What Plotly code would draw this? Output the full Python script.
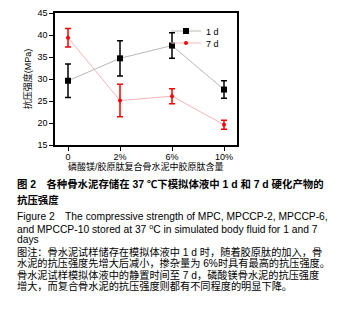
import plotly.graph_objects as go

categories = ["0", "2%", "6%", "10%"]
d1_values = [29.6, 34.7, 37.6, 27.6]
d1_errors = [3.8, 4.0, 2.9, 2.0]
d7_values = [39.4, 25.1, 26.1, 19.6]
d7_errors = [2.1, 3.7, 1.7, 1.0]
y_ticks = [15, 20, 25, 30, 35, 40, 45]

x = list(range(len(categories)))

fig = go.Figure()
fig.add_trace(go.Scatter(
    x=x, y=d1_values, name="1 d", mode="lines+markers", legend="legend",
    line=dict(color="#b8b8b8", width=1),
    marker=dict(symbol="square", size=6, color="black"),
    error_y=dict(type="data", array=d1_errors, color="black", thickness=1.5, width=3),
))
fig.add_trace(go.Scatter(
    x=x, y=d7_values, name="7 d", mode="lines+markers", legend="legend2",
    line=dict(color="#f5b5b5", width=1),
    marker=dict(symbol="circle", size=4, color="red"),
    error_y=dict(type="data", array=d7_errors, color="red", thickness=1.5, width=3),
))

# page body has an 8px margin; figure coordinates = page coordinates - 8
OFF = 8
W, H = 349 - OFF, 335 - OFF
L, R, T, B = 55 - OFF, 237 - OFF, 13 - OFF, 145 - OFF
pw, ph = R - L, B - T

def px(xp):
    return (xp - OFF - L) / pw

def py(yp):
    return (B - (yp - OFF)) / ph

cjk = "Liberation Sans, Noto Sans CJK SC, sans-serif"

legend_common = dict(xanchor="left", yanchor="middle", bgcolor="rgba(0,0,0,0)",
                     font=dict(size=9), borderwidth=0)

fig.update_layout(
    template="none",
    width=W, height=H,
    margin=dict(l=L, r=W - R, t=T, b=H - B, pad=0, autoexpand=False),
    paper_bgcolor="white", plot_bgcolor="white",
    font=dict(family=cjk, size=9, color="black"),
    showlegend=True,
    legend=dict(x=px(166), y=py(31), **legend_common),
    legend2=dict(x=px(166), y=py(43), **legend_common),
    xaxis=dict(range=[-0.25, 3.25], tickvals=x, ticktext=categories,
               showline=True, linecolor="black", linewidth=1.5, mirror=True,
               ticks="outside", ticklen=4, tickcolor="black", showgrid=False,
               ticklabelstandoff=-2,
               zeroline=False, fixedrange=True, automargin=False),
    yaxis=dict(range=[15, 45], tickvals=y_ticks,
               showline=True, linecolor="black", linewidth=1.5, mirror=True,
               ticks="outside", ticklen=4, tickcolor="black", showgrid=False,
               zeroline=False, automargin=False,
               title=dict(text="抗压强度(MPa)", font=dict(size=9), standoff=4)),
)

fig.add_annotation(text="磷酸镁/胶原肽复合骨水泥中胶原肽含量", xref="paper", yref="paper",
                   x=px(146), y=py(166.5), xanchor="center", yanchor="middle",
                   showarrow=False, font=dict(size=9, family=cjk))

lines = [
    ("<b>图 2　各种骨水泥存储在 37 ℃下模拟体液中 1 d 和 7 d 硬化产物的</b>", 184, 10.4),
    ("<b>抗压强度</b>", 200, 10.4),
    ("Figure 2　The compressive strength of MPC, MPCCP-2, MPCCP-6,", 216, 10.3),
    ("and MPCCP-10 stored at 37 <sup>o</sup>C in simulated body fluid for 1 and 7", 228, 10.3),
    ("days", 239, 10.3),
    ("图注：骨水泥试样储存在模拟体液中 1 d 时，随着胶原肽的加入，骨", 252, 10.2),
    ("水泥的抗压强度先增大后减小，掺杂量为 6%时具有最高的抗压强度。", 263, 10.2),
    ("骨水泥试样模拟体液中的静置时间至 7 d，磷酸镁骨水泥的抗压强度", 275, 10.2),
    ("增大，而复合骨水泥的抗压强度则都有不同程度的明显下降。", 286, 10.2),
]
for text, yp, fs in lines:
    fig.add_annotation(text=text, xref="paper", yref="paper", x=px(15), y=py(yp),
                       xanchor="left", yanchor="middle", showarrow=False, align="left",
                       font=dict(size=fs, family=cjk))

fig.write_html("out.html")
